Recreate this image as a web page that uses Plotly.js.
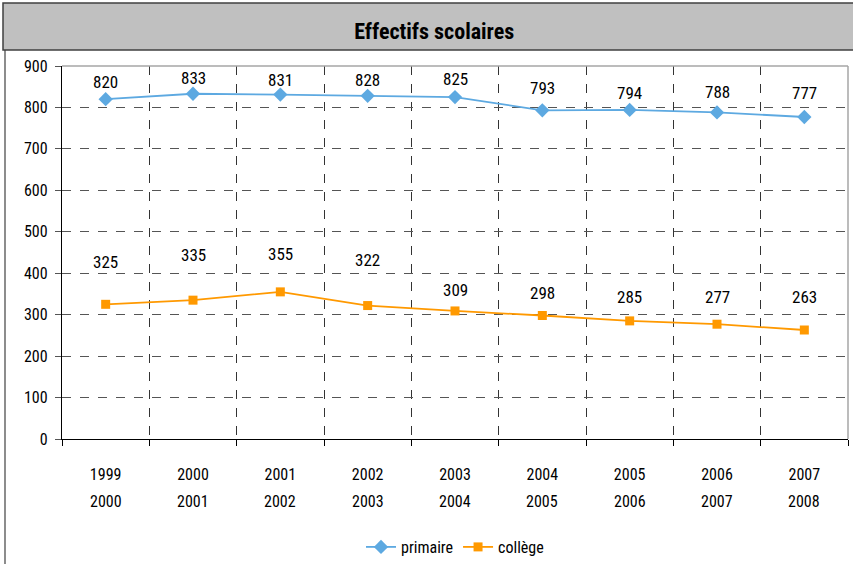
<!DOCTYPE html>
<html>
<head>
<meta charset="utf-8">
<script src="https://cdn.plot.ly/plotly-3.0.1.min.js"></script>
<style>
html,body{margin:0;padding:0;background:#fff;}
#chart{width:853px;height:564px;}
#chart svg text{font-stretch:condensed !important;}
</style>
</head>
<body>
<div id="chart"></div>
<script>
// ---- data ----
const yearStart = ['1999','2000','2001','2002','2003','2004','2005','2006','2007'];
const yearEnd   = ['2000','2001','2002','2003','2004','2005','2006','2007','2008'];
const categories = yearStart.map((s, i) => s + '-' + yearEnd[i]);
const primaire = [820, 833, 831, 828, 825, 793, 794, 788, 777];
const college  = [325, 335, 355, 322, 309, 298, 285, 277, 263];
const yTicks = [0, 100, 200, 300, 400, 500, 600, 700, 800, 900];

// ---- styles ----
const FONT = '"Roboto Condensed", Roboto, sans-serif';
const blue = '#5DA9E1';
const orange = '#FF9900';
const primaireShift = [17, 16, 15, 16, 18, 22, 17, 20, 24];
const collegeShift  = [42, 45, 38, 46, 21, 23, 24, 27, 33];

const traces = [
  {
    x: categories, y: primaire, name: 'primaire', type: 'scatter', mode: 'lines+markers',
    line: {color: blue, width: 1.8},
    marker: {symbol: 'diamond', size: 11, color: blue},
    cliponaxis: false
  },
  {
    x: categories, y: college, name: 'collège', type: 'scatter', mode: 'lines+markers',
    line: {color: orange, width: 1.8},
    marker: {symbol: 'square', size: 9, color: orange},
    cliponaxis: false
  }
];

const annotations = [];
primaire.forEach((v, i) => annotations.push({
  x: categories[i], y: v, xref: 'x', yref: 'y', text: String(v), showarrow: false,
  yshift: primaireShift[i], yanchor: 'middle', font: {family: FONT, size: 17, color: '#000'}
}));
college.forEach((v, i) => annotations.push({
  x: categories[i], y: v, xref: 'x', yref: 'y', text: String(v), showarrow: false,
  yshift: collegeShift[i], yanchor: 'middle', font: {family: FONT, size: 17, color: '#000'}
}));

const L = 62, R = 848, T = 66, B = 439, W = 853, H = 564;
const px = v => (v - L) / (R - L);
const py = v => (B - v) / (B - T);

yearEnd.forEach((t, i) => annotations.push({
  x: categories[i], y: py(501), xref: 'x', yref: 'paper', text: t, showarrow: false,
  yanchor: 'middle', font: {family: FONT, size: 16, color: '#000'}
}));

const shapes = [
  // title bar
  {type: 'rect', xref: 'paper', yref: 'paper', x0: px(3), x1: px(860), y0: py(50), y1: py(3),
   fillcolor: '#C0C0C0', line: {color: '#404040', width: 1.5}, layer: 'below'},
  // left border of chart box
  {type: 'line', xref: 'paper', yref: 'paper', x0: px(5), x1: px(5), y0: py(50), y1: py(570),
   line: {color: '#404040', width: 1.2}},
  // top border of plot
  {type: 'line', xref: 'paper', yref: 'paper', x0: 0, x1: 1, y0: 1, y1: 1,
   line: {color: '#A6A6A6', width: 1.5}},
  // right border of plot
  {type: 'line', xref: 'paper', yref: 'paper', x0: 1, x1: 1, y0: 0, y1: 1,
   line: {color: '#A6A6A6', width: 1.5}}
];

const layout = {
  width: W, height: H,
  margin: {l: L, r: W - R, t: T, b: H - B, autoexpand: false},
  paper_bgcolor: '#fff', plot_bgcolor: '#fff',
  font: {family: FONT, size: 16, color: '#000'},
  title: {text: '<b>Effectifs scolaires</b>', x: 0.509, xref: 'container', y: 1 - 31 / H, yref: 'container',
          xanchor: 'center', yanchor: 'middle', font: {family: FONT, size: 22, color: '#000'}},
  showlegend: true,
  legend: {orientation: 'h', x: 0.5, xanchor: 'center', y: py(547), yanchor: 'middle',
           font: {family: FONT, size: 16, color: '#000'}, bgcolor: 'rgba(0,0,0,0)'},
  xaxis: {
    type: 'category', tickmode: 'array', tickvals: categories, ticktext: yearStart,
    tickson: 'boundaries', ticks: 'outside', ticklen: 6, tickcolor: '#000', tickwidth: 1,
    showline: true, linecolor: '#000', linewidth: 1.2, automargin: false,
    showgrid: true, gridcolor: '#333', griddash: 'dash', gridwidth: 1,
    ticklabelstandoff: 21, tickfont: {family: FONT, size: 16, color: '#000'},
    range: [-0.5, 8.5], fixedrange: true, zeroline: false
  },
  yaxis: {
    range: [0, 900], tickmode: 'array', tickvals: yTicks, automargin: false,
    ticks: 'outside', ticklen: 6, tickcolor: '#555', tickwidth: 1,
    showline: true, linecolor: '#000', linewidth: 1.2,
    showgrid: true, gridcolor: '#555', griddash: 'dash', gridwidth: 1,
    zeroline: false, tickfont: {family: FONT, size: 16, color: '#000'}, ticklabelstandoff: 4
  },
  annotations: annotations,
  shapes: shapes
};

Plotly.newPlot('chart', traces, layout, {displayModeBar: false, staticPlot: true});
</script>
</body>
</html>
